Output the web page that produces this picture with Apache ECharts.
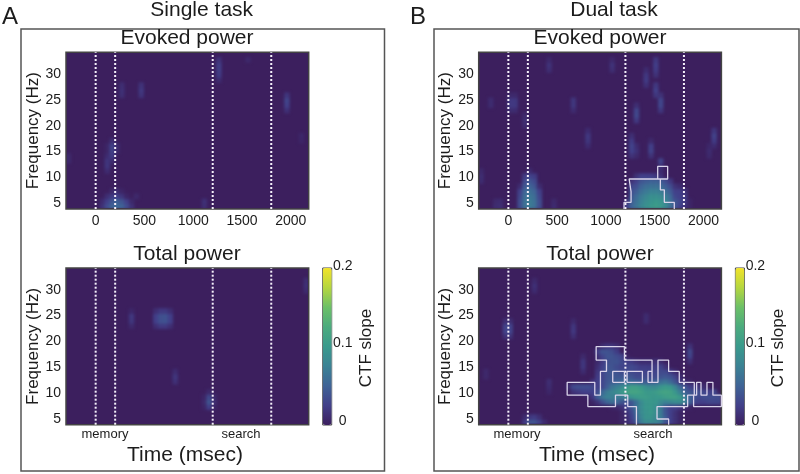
<!DOCTYPE html>
<html>
<head>
<meta charset="utf-8">
<style>html,body{margin:0;padding:0;background:#fff}#main{width:800px;height:474px}</style>
<script src="https://cdn.jsdelivr.net/npm/echarts@6/dist/echarts.min.js"></script>
</head>
<body>
<div id="main"></div>
<script>
// Heat cell axes: each cell covers time..time+50 ms and freq..freq+1 Hz
const timeBins = [-300,-250,-200,-150,-100,-50,0,50,100,150,200,250,300,350,400,450,500,550,600,650,700,750,800,850,900,950,1000,1050,1100,1150,1200,1250,1300,1350,1400,1450,1500,1550,1600,1650,1700,1750,1800,1850,1900,1950,2000,2050,2100,2150];
const freqBins = [4,5,6,7,8,9,10,11,12,13,14,15,16,17,18,19,20,21,22,23,24,25,26,27,28,29,30,31,32,33,34];
const timeTicks = [0,500,1000,1500,2000];
const freqTicks = [5,10,15,20,25,30];
const eventTimes = [0,200,1200,1800];
const slopeMax = 0.2;
const slopeColors = ['#3c1f5e','#42408a','#3f6496','#3b8294','#3a9a8c','#4cab7e','#6cc067','#b5d63f','#f2e32a'];

// Non-zero CTF slope readings, in thousandths: [freq, first time bin, values...]
const singleEvoked = [
 [4,50,15,35,50,55,50,35,15],[5,50,10,25,40,48,40,25,8],[6,100,12,22,25,18,5],[7,150,8,12,5],
 [11,100,10],[12,100,18],[13,100,18,10],[14,100,10,22],[15,100,5,28,8],[16,100,5,28,10],[17,150,12],
 [26,250,12],[27,250,14],[28,250,12],[26,450,16],[27,450,20],[28,450,16],
 [6,400,8],[4,1100,12],[5,1100,14],
 [29,1250,10],[30,1250,22],[31,1250,24],[32,1250,24],[33,1250,16],[33,1550,8],
 [23,1950,14],[24,1950,26],[25,1950,30],[26,1950,18],
 [17,2100,5],[18,2100,6],[13,-300,8],[14,-300,8]
];
const singleTotal = [
 [23,600,12,20,20,12],[24,600,25,36,38,25],[25,600,25,36,38,25],[26,600,12,20,20,12],
 [23,350,8],[24,350,18],[25,350,20],[26,350,6],
 [12,800,14],[13,800,18],[14,800,10],
 [7,1100,5,25,5],[8,1100,8,42,12],[9,1100,5,32,8],[10,1150,8],
 [30,2150,10],[31,2150,14],[32,2150,12]
];
const dualEvoked = [
 [4,1200,25,50,65,80,92,100,105,100,85,62,40,25,15,5],
 [5,1200,15,45,60,75,86,95,100,95,80,62,40,30,20,5],
 [6,1250,40,55,70,80,90,90,85,72,55,30,25,20],
 [7,1250,35,45,60,68,76,76,72,60,45,25,25,15],
 [8,1250,30,35,50,58,62,62,58,45,35,15,10],
 [9,1250,15,25,40,45,50,50,45,35,20],
 [10,1300,15,25,25,25,20,15],
 [4,100,35,62,70,62,35],[5,100,35,62,70,62,35],[6,100,30,58,66,58,30],[7,100,25,52,60,52,25],
 [8,100,10,42,50,42,10],[9,150,32,42,32],[10,150,22,28,22],[11,200,10],
 [30,1500,15],[31,1500,22],[32,1500,25],[33,1500,20],
 [28,1400,14],[29,1400,22],[30,1400,20],[31,1400,10],
 [26,1500,18],[27,1500,25],[28,1500,20],
 [23,1550,18],[24,1550,30],[25,1550,30],[26,1550,15],
 [21,1300,20],[22,1300,32],[23,1300,30],[24,1300,12],
 [14,1450,15],[15,1450,28],[16,1450,26],[17,1450,8],
 [14,1300,8],[15,1300,14],[16,1300,10],
 [14,1250,15],[15,1250,25],[16,1250,28],[17,1250,22],[18,1250,12],
 [11,1550,10],[12,1550,15],[13,1550,28],
 [16,2100,10],[17,2100,22],[18,2100,28],[19,2100,18],
 [14,2050,8],[15,2050,10],[16,2050,6],
 [16,800,10],[17,800,18],[18,800,20],[19,800,10],
 [23,650,10],[24,650,18],[25,650,18],
 [31,400,12],[32,400,16],[33,400,8],[31,1050,12],[32,1050,16],[33,1050,8],
 [23,0,10,10],[24,0,20,20],[25,0,20,20],[26,0,8,8],
 [24,-200,10],[25,-200,10],[20,150,10],[21,150,12],[22,150,8],
 [9,-300,10],[10,-300,12],[11,-300,8],
 [4,-150,10,12],[5,-150,8,10],[4,450,10],[5,450,8]
];
const dualTotal = [
 [4,1150,5,10,20,40,70,85,85,80,70,40,25,15,5],
 [5,1150,5,10,25,50,80,95,95,85,70,45,25,15,5],
 [6,1150,5,15,30,55,85,95,100,90,70,40,25,15,5],
 [7,1050,5,8,15,25,40,65,85,98,100,92,70,40,25,25,20,10,5],
 [8,850,5,15,35,50,60,55,40,35,40,60,85,98,100,98,85,75,80,85,88,75,50,30,25,25,30,30,30],
 [9,800,5,20,45,65,75,75,70,70,80,95,102,105,105,102,100,102,108,110,110,102,75,50,35,30,35,35,35,35],
 [10,650,15,20,25,25,25,35,55,70,80,90,102,112,115,115,110,102,102,105,112,115,112,98,75,50,40,35,35,30,25,30],
 [11,600,10,30,35,35,35,30,25,30,45,65,75,85,98,108,108,102,90,85,85,95,102,98,80,55,40,25,20,15,10],
 [12,850,15,25,30,40,45,50,55,55,55,50,45,45,45,50,60,65,55,40,20,10,5],
 [13,900,22,28,38,42,42,42,42,38,32,32,32,32,32,38,42,38,28,10],
 [14,900,18,28,38,42,38,32,32,32,28,28,28,28,28,32,32,22,10],
 [15,900,12,25,38,38,32,28,28,32,28,22,22,22,22,28,15],
 [16,900,8,20,34,38,38,32,22,22,15,10,10,10,15,10],
 [17,900,12,28,38,38,34,28,5],[17,1850,28],
 [18,900,22,38,38,34,22],[18,1850,32],[19,950,12,18,18,12],[16,1850,12],[19,1850,15],
 [21,-50,15,15],[22,-50,28,28],[23,-50,28,28],[24,-50,12,12],
 [21,650,12],[22,650,20],[23,650,18],[24,650,8],
 [14,750,10],[15,750,18],[16,750,18],[17,750,8],
 [4,150,22,40,40,28,10],[5,150,10,18,22,12],
 [30,250,10],[31,250,14],[32,250,8],
 [10,400,6],[11,400,10],[12,400,12],[24,1400,10],[25,1400,10],[13,-250,8],[14,-250,8]
];

// Significance outlines as [time, freq] vertices
const dualEvokedOutlines = [
 [[1186,3.9],[1186,5.2],[1258,5.2],[1258,7.26],[1238,7.26],[1238,9.7],[1633,9.7],[1633,12.16],[1531,12.16],[1531,9.7]],
 [[1558,9.7],[1558,7.6],[1599,7.6],[1599,5.2],[1701,5.2],[1701,3.9]]
];
const dualTotalOutlines = [
 [[1313,3.9],[1313,7.4],[1224,7.4],[1224,9.6],[1098,9.6],[1098,7.4],[815,7.4],[815,9.6],[603,9.6],[603,12.1],[886,12.1],[886,9.6],[944,9.6],[944,14.2],[1006,14.2],[1006,16.4],[900,16.4],[900,19],[1190,19],[1190,16.4],[1473,16.4],[1473,12.1],[1534,12.1],[1534,16.4],[1643,16.4],[1643,14.2],[1752,14.2],[1752,12.1],[1906,12.1],[1906,9.6],[1930,9.6],[1930,12.1],[1975,12.1],[1975,9.6],[2036,9.6],[2036,12.1],[2097,12.1],[2097,9.6],[2184,9.6],[2184,7.4],[1899,7.4],[1899,9.6],[1838,9.6],[1838,7.4],[1524,7.4],[1524,5],[1643,5],[1643,3.9]],
 [[1070,12.1],[1190,12.1],[1190,14.2],[1070,14.2],[1070,12.1]],
 [[1217,12.1],[1374,12.1],[1374,14.2],[1217,14.2],[1217,12.1]],
 [[1473,14.2],[1432,14.2],[1432,12.1],[1473,12.1]]
];

const TIME_MIN = -304, TIME_MAX = 2184, FREQ_MIN = 3.9, FREQ_MAX = 34.2;
const ink = '#1c1c1c', frame = '#555';
const panels = [
 {heat: singleEvoked, outlines: [], dx: 0, top: 52.3, showTime: true},
 {heat: singleTotal, outlines: [], dx: 0, top: 268, showTime: false},
 {heat: dualEvoked, outlines: dualEvokedOutlines, dx: 412.7, top: 52.3, showTime: true},
 {heat: dualTotal, outlines: dualTotalOutlines, dx: 412.7, top: 268, showTime: false}
];
const plotW = 242.7, plotH = 156.7;

function cells(rows) {
  const out = [];
  rows.forEach(r => {
    for (let k = 2; k < r.length; k++) {
      const x = timeBins.indexOf(r[1] + (k - 2) * 50), y = freqBins.indexOf(r[0]);
      if (x >= 0 && y >= 0) out.push([x, y, r[k] / 1000]);
    }
  });
  return out;
}

const grid = [], xAxis = [], yAxis = [], heatSeries = [], overlaySeries = [];
panels.forEach((p, i) => {
  grid.push({left: 66 + p.dx, top: p.top, width: plotW, height: plotH, show: true,
    backgroundColor: slopeColors[0], borderColor: '#444', borderWidth: 1.5});
  xAxis.push({type: 'category', gridIndex: i, data: timeBins, show: false});
  yAxis.push({type: 'category', gridIndex: i, data: freqBins, show: false});
  xAxis.push({type: 'value', gridIndex: i, min: TIME_MIN, max: TIME_MAX, position: 'bottom',
    splitLine: {show: false}, axisLine: {show: false}, axisTick: {show: false},
    axisLabel: {show: p.showTime, customValues: timeTicks, color: ink, fontSize: 14, fontFamily: 'Liberation Sans', margin: 5, formatter: v => String(v)}});
  yAxis.push({type: 'value', gridIndex: i, min: FREQ_MIN, max: FREQ_MAX, position: 'left',
    name: 'Frequency (Hz)', nameLocation: 'middle', nameGap: 24, nameRotate: 90,
    nameTextStyle: {color: ink, fontSize: 17, fontFamily: 'Liberation Sans'},
    splitLine: {show: false}, axisLine: {show: false}, axisTick: {show: false},
    axisLabel: {customValues: freqTicks, color: ink, fontSize: 14, fontFamily: 'Liberation Sans', margin: 5, formatter: v => String(v)}});
  heatSeries.push({type: 'heatmap', xAxisIndex: i * 2, yAxisIndex: i * 2, data: cells(p.heat),
    zlevel: 1, progressive: 0, animation: false, silent: true, itemStyle: {borderWidth: 0}});
  eventTimes.forEach(t => overlaySeries.push({type: 'line', xAxisIndex: i * 2 + 1, yAxisIndex: i * 2 + 1,
    data: [[t, FREQ_MIN], [t, FREQ_MAX]], symbol: 'none', silent: true, animation: false, zlevel: 2,
    lineStyle: {color: '#f4f0fa', width: 2, type: [2, 2]}}));
  p.outlines.forEach(o => overlaySeries.push({type: 'line', xAxisIndex: i * 2 + 1, yAxisIndex: i * 2 + 1,
    data: o, symbol: 'none', silent: true, animation: false, zlevel: 2, clip: true,
    lineStyle: {color: '#d9d3ea', width: 1.3}}));
});

// Colour-bar scale axes
[0, 412.7].forEach((dx, k) => {
  grid.push({left: 322.7 + dx, top: 266, width: 9, height: 155});
  xAxis.push({type: 'value', gridIndex: 4 + k, show: false});
  yAxis.push({type: 'value', gridIndex: 4 + k, min: 0, max: slopeMax, interval: 0.1, position: 'right',
    splitLine: {show: false}, axisLine: {show: false}, axisTick: {show: false},
    axisLabel: {align: 'center', margin: 11, color: ink, fontSize: 14, fontFamily: 'Liberation Sans',
      formatter: v => v === 0 ? '0' : v.toFixed(1)}});
});

const heatIdx = [0, 1, 2, 3];
const visualMap = [0, 412.7].map(dx => ({type: 'continuous', min: 0, max: slopeMax, seriesIndex: heatIdx,
  left: 322.7 + dx, top: 268, itemWidth: 9, itemHeight: 157, padding: 0, calculable: false, text: null,
  inRange: {color: slopeColors}, hoverLink: false}));

const txt = (s, x, y, size, rotation) => ({type: 'text', x, y, rotation: rotation || 0, silent: true,
  style: {text: s, fill: ink, font: size + 'px "Liberation Sans"', textAlign: 'center', textVerticalAlign: 'middle'}});
const box = (x, y, w, h, lw, color) => ({type: 'rect', silent: true, shape: {x, y, width: w, height: h},
  style: {fill: 'none', stroke: color, lineWidth: lw}});

const graphic = [
 box(21, 29, 363.5, 442, 1.5, frame), box(434, 29, 365, 442, 1.5, frame),
 box(322.7, 268, 9, 157, 1, '#444'), box(735.4, 268, 9, 157, 1, '#444'),
 txt('A', 10, 17, 24), txt('B', 418, 17, 24),
 txt('Single task', 201.7, 10, 21), txt('Dual task', 614, 10, 21),
 txt('Evoked power', 187, 38, 21), txt('Evoked power', 600, 38, 21),
 txt('Total power', 187, 254, 21), txt('Total power', 600, 254, 21),
 txt('memory', 105, 434, 13), txt('memory', 517, 434, 13),
 txt('search', 241, 434, 13), txt('search', 653, 434, 13),
 txt('Time (msec)', 185, 455, 21), txt('Time (msec)', 597, 455, 21),
 txt('CTF slope', 366, 348, 17, Math.PI / 2), txt('CTF slope', 778, 348, 17, Math.PI / 2)
];

const chart = echarts.init(document.getElementById('main'));
chart.setOption({
  backgroundColor: '#fff', animation: false, grid, xAxis, yAxis, visualMap,
  series: heatSeries.concat(overlaySeries), graphic: {elements: graphic}
});

// Soften only the heat-cell layer, kept inside the plot frames
function softenHeat() {
  const layer = document.querySelector('canvas[data-zr-dom-id="zr_1"]');
  if (!layer) return;
  const d = panels.map(p => {
    const x0 = 66 + p.dx + 1, y0 = p.top + 1;
    return 'M' + x0 + ' ' + y0 + 'H' + (x0 + plotW - 2) + 'V' + (y0 + plotH - 2) + 'H' + x0 + 'Z';
  }).join(' ');
  layer.style.filter = 'blur(1.8px)';
  layer.style.clipPath = "path('" + d + "')";
}
softenHeat();
chart.on('finished', softenHeat);
</script>
</body>
</html>
